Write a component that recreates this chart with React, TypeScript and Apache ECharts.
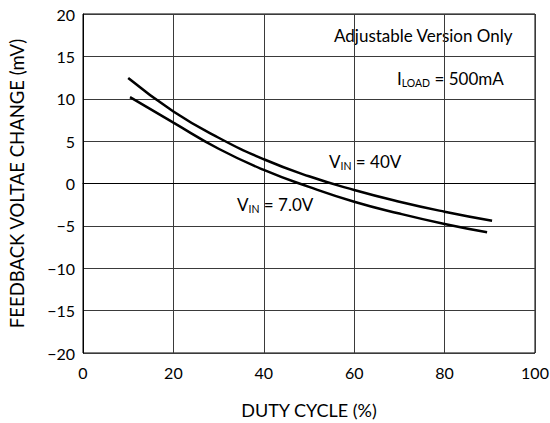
import React, { useEffect, useRef } from "react";
import * as echarts from "echarts";

const xTicks = [0, 20, 40, 60, 80, 100];
const yTicks = [-20, -15, -10, -5, 0, 5, 10, 15, 20];

const duty40V = [10, 20, 30, 40, 50, 60, 70, 80, 90.5];
const vals40V = [12.45, 8.5, 5.4, 2.86, 0.85, -0.77, -2.15, -3.33, -4.4];

const duty7V = [10.4, 20, 30, 40, 50, 60, 70, 80, 89.4];
const vals7V = [10.2, 7.18, 4.1, 1.6, -0.4, -2.15, -3.55, -4.78, -5.76];

const FONT = "Lato";

export default function App() {
  const ref = useRef<HTMLDivElement>(null);
  useEffect(() => {
    if (!ref.current) return;
    const chart = echarts.init(ref.current, undefined, { renderer: "svg" });
    const pts = (xs: number[], ys: number[]) => xs.map((x, i) => [x, ys[i]]);
    const sub = { fontSize: 10.5, fontFamily: FONT, color: "#000", padding: [8, 0, 0, 0] };
    const main = { fontSize: 17, fontFamily: FONT, color: "#000" };
    chart.setOption({
      animation: false,
      backgroundColor: "#fff",
      grid: {
        left: 83, right: 15, top: 14, bottom: 70,
        outerBoundsMode: "none", containLabel: false,
        show: true, borderColor: "#000", borderWidth: 1,
      },
      xAxis: {
        type: "value", min: xTicks[0], max: xTicks[xTicks.length - 1], interval: 20,
        name: "DUTY CYCLE (%)", nameLocation: "middle", nameGap: 48,
        nameTextStyle: { fontSize: 18, fontFamily: FONT, color: "#000" },
        axisLine: { show: true, lineStyle: { color: "#000", width: 1 } },
        axisTick: { show: false },
        axisLabel: { fontSize: 16, fontFamily: FONT, color: "#000", margin: 11 },
        splitLine: { show: true, lineStyle: { color: "#3a3a3a", width: 1 } },
      },
      yAxis: {
        type: "value", min: yTicks[0], max: yTicks[yTicks.length - 1], interval: 5,
        name: "FEEDBACK VOLTAE CHANGE (mV)", nameLocation: "middle", nameGap: 57,
        nameRotate: 90,
        nameTextStyle: { fontSize: 18.5, fontFamily: FONT, color: "#000" },
        axisLine: { show: true, lineStyle: { color: "#000", width: 1 } },
        axisTick: { show: false },
        axisLabel: {
          fontSize: 16, fontFamily: FONT, color: "#000", margin: 8,
          formatter: (v: number) => (v < 0 ? "\u2212" + Math.abs(v) : String(v)),
        },
        splitLine: { show: true, lineStyle: { color: "#3a3a3a", width: 1 } },
      },
      series: [
        {
          type: "line", data: pts(duty40V, vals40V), smooth: 0.5, showSymbol: false,
          lineStyle: { color: "#000", width: 2.5 },
        },
        {
          type: "line", data: pts(duty7V, vals7V), smooth: 0.5, showSymbol: false,
          lineStyle: { color: "#000", width: 2.5 },
        },
      ],
      graphic: [
        {
          type: "text", left: 334, top: 27,
          style: { text: "Adjustable Version Only", ...main },
        },
        {
          type: "text", left: 397, top: 70,
          style: { text: "{a|I}{s|LOAD}{a| = 500mA}", rich: { a: main, s: sub } },
        },
        {
          type: "text", left: 329, top: 153,
          style: { text: "{a|V}{s|IN}{a| = 40V}", rich: { a: main, s: sub } },
        },
        {
          type: "text", left: 237, top: 196,
          style: { text: "{a|V}{s|IN}{a| = 7.0V}", rich: { a: main, s: sub } },
        },
      ],
    });
    return () => chart.dispose();
  }, []);
  return <div ref={ref} style={{ width: 550, height: 423, position: "absolute", left: 0, top: 0 }} />;
}
